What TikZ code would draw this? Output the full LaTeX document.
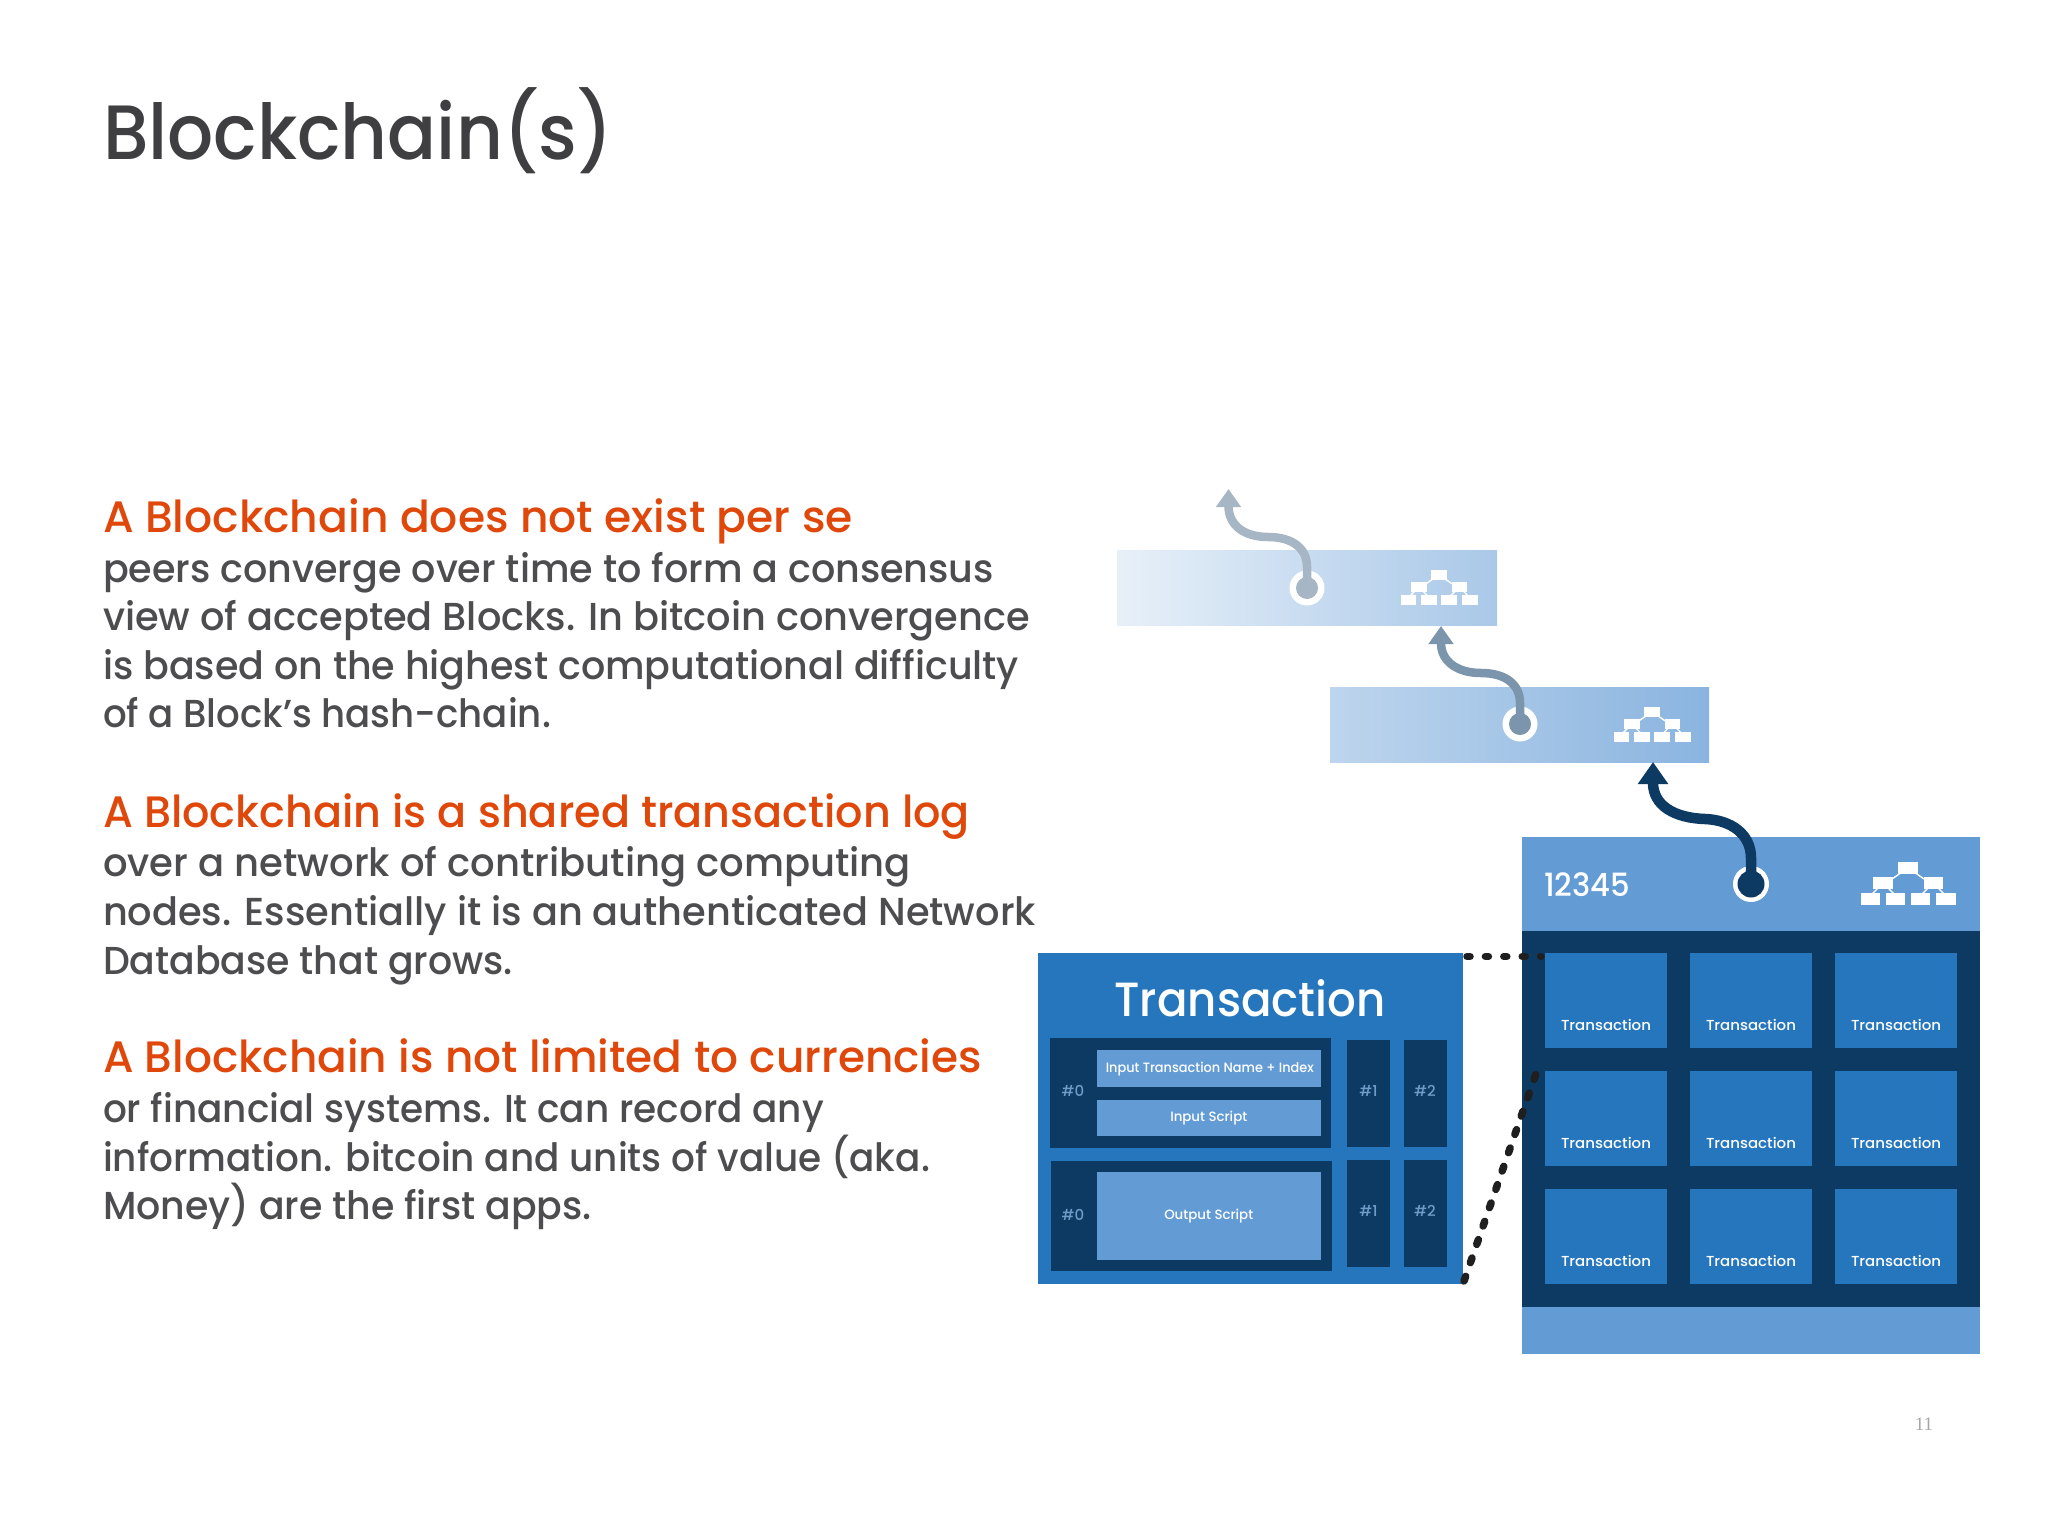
\documentclass[tikz,border=0pt]{standalone}
\usepackage{fontspec}
\usepackage{graphicx}
\setmainfont{Poppins Medium}
\newfontfamily\pagefont{Liberation Serif}
\usetikzlibrary{arrows.meta}
\definecolor{ink}{HTML}{4D4D50}
\definecolor{headink}{HTML}{3F3F41}
\definecolor{orangeh}{HTML}{E0480B}
\definecolor{navy}{HTML}{0C3A63}
\definecolor{midblue}{HTML}{2576BD}
\definecolor{lightblue}{HTML}{639BD5}
\definecolor{numblue}{HTML}{6E9CC8}
\definecolor{ar1}{HTML}{A6B6C4}
\definecolor{ar2}{HTML}{7A95AC}
\tikzset{
  x=1pt,y=-1pt,
  tl/.style={anchor=base west,inner sep=0pt,outer sep=0pt},
  body/.style={tl,text=ink,font=\fontsize{39}{39}\selectfont},
  lead/.style={tl,text=orangeh,font=\fontsize{44}{44}\selectfont},
  box/.style={draw=none,rectangle,inner sep=0pt,outer sep=0pt},
  cellbox/.style={anchor=north west,box,fill=midblue,minimum width=122pt,minimum height=95pt},
  celltext/.style={text=white,font=\fontsize{14.5}{14.5}\selectfont,inner sep=0pt},
  inbox/.style={text=white,font=\fontsize{13.5}{13.5}\selectfont,inner sep=0pt},
  numtext/.style={text=numblue,font=\fontsize{15}{15}\selectfont,inner sep=0pt},
  ringnode/.style={circle,fill=white,inner sep=0pt,outer sep=0pt},
  hubnode/.style={circle,inner sep=0pt,outer sep=0pt},
  dots/.style={draw=black!88,line width=7.5pt,line cap=round},
  iconpic/.pic={
    \fill[white] (-10,0) rectangle (10,12);
    \fill[white] (-35,15) rectangle (-15,27);
    \fill[white] (16,15) rectangle (35,27);
    \fill[white] (-47,31) rectangle (-28,43);
    \fill[white] (-22,31) rectangle (-3,43);
    \fill[white] (3,31) rectangle (22,43);
    \fill[white] (28,31) rectangle (48,43);
    \draw[white,line width=1.4pt] (-6,10) -- (-16,17) (6,10) -- (16,17)
      (-30,26) -- (-36,32) (-20,26) -- (-14,32) (20,26) -- (14,32) (30,26) -- (36,32);
  }
}
\newcommand{\fitw}[2]{\resizebox{#1pt}{\height}{#2}}
\begin{document}
\begin{tikzpicture}
\useasboundingbox (0,0) rectangle (2048,1536);
\fill[white] (0,0) rectangle (2048,1536);

% title and text
\node[tl,text=headink,font=\fontsize{77}{77}\selectfont] (title) at (103,159) {\fitw{510}{Blockchain(s)}};
\node[lead] (l1) at (103,532) {\fitw{750}{A Blockchain does not exist per se}};
\node[body] (b1) at (103,582) {\fitw{891}{peers converge over time to form a consensus}};
\node[body] (b2) at (103,630) {\fitw{927}{view of accepted Blocks. In bitcoin convergence}};
\node[body] (b3) at (103,679) {\fitw{916}{is based on the highest computational difficulty}};
\node[body] (b4) at (103,727) {\fitw{448}{of a Block’s hash-chain.}};
\node[lead] (l2) at (103,827) {\fitw{867}{A Blockchain is a shared transaction log}};
\node[body] (b5) at (103,876) {\fitw{808}{over a network of contributing computing}};
\node[body] (b6) at (103,925) {\fitw{933}{nodes. Essentially it is an authenticated Network}};
\node[body] (b7) at (103,974) {\fitw{410}{Database that grows.}};
\node[lead] (l3) at (103,1072) {\fitw{879}{A Blockchain is not limited to currencies}};
\node[body] (b8) at (103,1122) {\fitw{721}{or financial systems. It can record any}};
\node[body] (b9) at (103,1171) {\fitw{827}{information. bitcoin and units of value (aka.}};
\node[body] (b10) at (103,1219) {\fitw{489}{Money) are the first apps.}};

% faded blocks
\shade[left color=white!85!lightblue,right color=lightblue!55!white] (1117,550) rectangle (1497,625);
\shade[left color=lightblue!42!white,right color=lightblue!75!white] (1330,687) rectangle (1709,762);
\pic at (1439,570) [scale=0.81] {iconpic};
\pic at (1652,707) [scale=0.81] {iconpic};

% main block
\fill[navy] (1522,931) rectangle (1980,1307);
\fill[lightblue] (1522,837) rectangle (1980,931);
\fill[lightblue] (1522,1307) rectangle (1980,1354);
\node[text=white,font=\fontsize{32}{32}\selectfont,anchor=west,inner sep=0pt] (num) at (1544,885) {\fitw{86}{12345}};
\pic at (1908,862) {iconpic};

% transactions grid
\foreach \cx/\col in {1545/a,1690/b,1835/c}{
  \foreach \cy/\row in {953/a,1071/b,1189/c}{
    \node[cellbox] (c\col\row) at (\cx,\cy) {};
    \node[celltext] (t\col\row) at ([yshift=-24.5pt]c\col\row.center) {\fitw{90}{Transaction}};
  }
}

% circles and arrows
\node[ringnode,minimum size=35pt] (r1) at (1307,588) {};
\node[ringnode,minimum size=35pt] (r2) at (1520,724) {};
\node[ringnode,minimum size=36pt] (r3) at (1751,884) {};
\node[hubnode,fill=ar1,minimum size=22pt] (d1) at (r1.center) {};
\node[hubnode,fill=ar2,minimum size=22pt] (d2) at (r2.center) {};
\node[hubnode,fill=navy,minimum size=27pt] (d3) at (r3.center) {};
\coordinate (t1) at (1228.5,489);
\coordinate (t2) at (1441,626);
\coordinate (t3) at (1653,762);
\draw[ar1,line width=8.5pt,-{Triangle[length=18pt,width=24pt]}]
  (d1.center) -- (1307,567) .. controls (1307,548) and (1292,537) .. (1268,537) .. controls (1245,537) and (1228.5,526) .. (t1);
\draw[ar2,line width=8.5pt,-{Triangle[length=18pt,width=24pt]}]
  (d2.center) -- (1520,703) .. controls (1520,684) and (1505,673) .. (1481,673) .. controls (1458,673) and (1441,662) .. (t2);
\draw[navy,line width=10.5pt,-{Triangle[length=22pt,width=29pt]}]
  (d3.center) -- (1751,858) .. controls (1751,834) and (1731,820) .. (1705,819) .. controls (1675,818) and (1653,806) .. (t3);

% transaction panel
\fill[midblue] (1038,953) rectangle (1463,1284);
\node[text=white,font=\fontsize{48}{48}\selectfont,inner sep=0pt] (ttl) at (1250,998) {\fitw{271}{Transaction}};
\fill[navy] (1050,1038) rectangle (1331,1148);
\fill[navy] (1051,1161) rectangle (1332,1271);
\fill[navy] (1347,1040) rectangle (1390,1147);
\fill[navy] (1404,1040) rectangle (1446.5,1147);
\fill[navy] (1347,1160) rectangle (1390,1267);
\fill[navy] (1404,1160) rectangle (1446.5,1267);
\node[box,fill=lightblue,anchor=north west,minimum width=223.5pt,minimum height=37pt] (i1) at (1097,1050) {};
\node[box,fill=lightblue,anchor=north west,minimum width=223.5pt,minimum height=36pt] (i2) at (1097,1100) {};
\node[box,fill=lightblue,anchor=north west,minimum width=223.5pt,minimum height=88pt] (i3) at (1097,1172) {};
\node[inbox] at ([xshift=1pt,yshift=-1pt]i1.center) {\fitw{208}{Input Transaction Name + Index}};
\node[inbox] at ([yshift=0pt]i2.center) {\fitw{77}{Input Script}};
\node[inbox] at ([yshift=0pt]i3.center) {\fitw{89}{Output Script}};
\node[numtext] (n1) at (1073,1091) {\#0};
\node[numtext] (n2) at (1073,1215) {\#0};
\node[numtext] (n3) at (1368.5,1091) {\#1};
\node[numtext] (n4) at (1368.5,1211) {\#1};
\node[numtext] (n5) at (1425,1091) {\#2};
\node[numtext] (n6) at (1425,1211) {\#2};

% dotted leaders
\coordinate (p1) at (1467,956.5);
\coordinate (p2) at (1541,956.5);
\coordinate (p3) at (1464,1281);
\coordinate (p4) at (1540,1062);
\draw[dots,dash pattern=on 3pt off 15.4pt] (p1) -- (p2);
\draw[dots,dash pattern=on 5pt off 14.4pt] (p3) -- (p4);

\node[text=black!35,font=\pagefont\fontsize{19}{19}\selectfont,inner sep=0pt] (pg) at (1924,1424) {11};
\end{tikzpicture}
\end{document}
